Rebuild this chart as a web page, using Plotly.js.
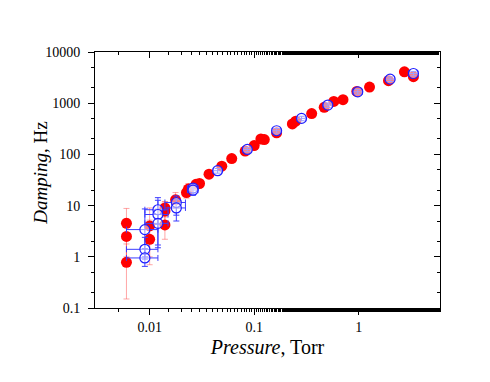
<!DOCTYPE html>
<html>
<head>
<meta charset="utf-8">
<script src="https://cdn.plot.ly/plotly-3.0.1.min.js"></script>
<style>body{margin:0;background:#fff}#plot{width:490px;height:382px}</style>
</head>
<body>
<div id="plot"></div>
<script>
// red: filled points
let redP = [0.006,0.006,0.006,0.010,0.010,0.014,0.014,0.014,0.0177,0.0225,0.0235,0.0278,0.030,0.037,0.049,0.061,0.082,0.100,0.116,0.125,0.164,0.232,0.250,0.355,0.468,0.578,0.708,0.96,1.27,1.93,2.74,3.34];
let redD = [4.5,2.5,0.78,4.0,2.2,9.0,7.8,4.2,13,18,21,26,27,41,59,83,116,149,200,195,264,393,445,627,830,1084,1170,1700,2065,2760,4100,3300];
let redErrUp = [4.3,3,1,5,3,3,4,3,5,6,6,5,4,4,5,6,8,10,12,12,15,20,25,30,40,50,60,80,100,140,200,170];
let redErrDn = [3.5,1.8,0.63,3,1.5,3,3,2,4,4,4,4,3,4,5,6,8,10,12,12,15,20,25,30,40,50,60,80,100,140,200,170];

// blue: open points
let blueP = [0.009,0.009,0.009,0.012,0.012,0.012,0.018,0.018,0.026,0.026,0.0447,0.086,0.164,0.284,0.507,0.98,2.0,3.34];
let blueD = [3.4,1.4,0.95,8.3,6.7,4.5,11.5,9.0,22,20,48,125,290,505,920,1670,2950,3800];
let blueErrX = [0.003,0.003,0.003,0.003,0.003,0.003,0.004,0.004,0.003,0.003,0.004,0.008,0.015,0.025,0.05,0.1,0.2,0.35];
let blueErrUp = [5.2,1,0.5,6,6,4,4,4,4,4,5,12,30,50,90,170,300,380];
let blueErrDn = [2.4,0.5,0.3,4,5,3,5,4,4,4,5,12,30,50,90,170,300,380];

let yTicks = [0.1,1,10,100,1000,10000];
let yTickText = ['0.1','1','10','100','1000','10000'];
let xTicks = [0.01,0.1,1];
let xTickText = ['0.01','0.1','1'];

let xr = [Math.log10(0.003), Math.log10(6)];
let yr = [-1, 4];

let red = {
  x: redP, y: redD, type: 'scatter', mode: 'markers',
  marker: {color: 'rgb(255,0,0)', size: 11},
  error_y: {type: 'data', array: redErrUp, arrayminus: redErrDn, color: 'rgba(255,80,80,0.5)', thickness: 1, width: 3},
  showlegend: false, hoverinfo: 'skip'
};

let blue = {
  x: blueP, y: blueD, type: 'scatter', mode: 'markers',
  marker: {color: 'rgba(255,255,255,0.5)', size: 10, line: {color: 'rgb(30,30,255)', width: 1.2}},
  error_x: {type: 'data', array: blueErrX, color: 'rgb(60,60,255)', thickness: 1, width: 3},
  error_y: {type: 'data', array: blueErrUp, arrayminus: blueErrDn, color: 'rgb(60,60,255)', thickness: 1, width: 3},
  showlegend: false, hoverinfo: 'skip'
};

let mirror = {x: [], y: [], xaxis: 'x2', yaxis: 'y2', type: 'scatter', showlegend: false, hoverinfo: 'skip'};

let fnt = {family: 'Liberation Serif, Times New Roman, serif', size: 14, color: '#000'};

let layout = {
  width: 490, height: 382,
  margin: {l: 95, r: 50, t: 52, b: 74},
  paper_bgcolor: '#fff', plot_bgcolor: '#fff',
  font: fnt,
  xaxis: {
    type: 'log', range: xr, tickvals: xTicks, ticktext: xTickText,
    ticks: 'outside', ticklen: 6, tickcolor: '#000', showgrid: false, zeroline: false,
    showline: true, linecolor: '#000', linewidth: 1,
    minor: {ticks: 'outside', ticklen: 3, tickcolor: '#000', showgrid: false},
    title: {text: '<i>Pressure</i>, Torr', font: {size: 20}, standoff: 6}
  },
  yaxis: {
    type: 'log', range: yr, tickvals: yTicks, ticktext: yTickText,
    ticks: 'outside', ticklen: 6, tickcolor: '#000', showgrid: false, zeroline: false,
    showline: true, linecolor: '#000', linewidth: 1, ticklabelstandoff: 5,
    minor: {ticks: 'outside', ticklen: 3, tickcolor: '#000', showgrid: false}
  },
  xaxis2: {
    type: 'log', range: xr, overlaying: 'x', side: 'top', anchor: 'y2',
    tickvals: xTicks, showticklabels: false, ticks: 'inside', ticklen: 6, tickcolor: '#000',
    showgrid: false, zeroline: false, showline: true, linecolor: '#000',
    minor: {ticks: 'inside', ticklen: 3, tickcolor: '#000', showgrid: false}
  },
  yaxis2: {
    type: 'log', range: yr, overlaying: 'y', side: 'right', anchor: 'x2',
    tickvals: yTicks, showticklabels: false, ticks: 'inside', ticklen: 6, tickcolor: '#000',
    showgrid: false, zeroline: false, showline: true, linecolor: '#000',
    minor: {ticks: 'inside', ticklen: 3, tickcolor: '#000', showgrid: false}
  },
  annotations: [{
    text: '<i>Damping</i>, Hz', textangle: -90, showarrow: false,
    xref: 'paper', yref: 'paper', x: -0.159, y: 0.525,
    xanchor: 'center', yanchor: 'middle', font: {size: 19}
  }]
};

Plotly.newPlot('plot', [red, blue, mirror], layout, {displayModeBar: false, staticPlot: true});
</script>
</body>
</html>
